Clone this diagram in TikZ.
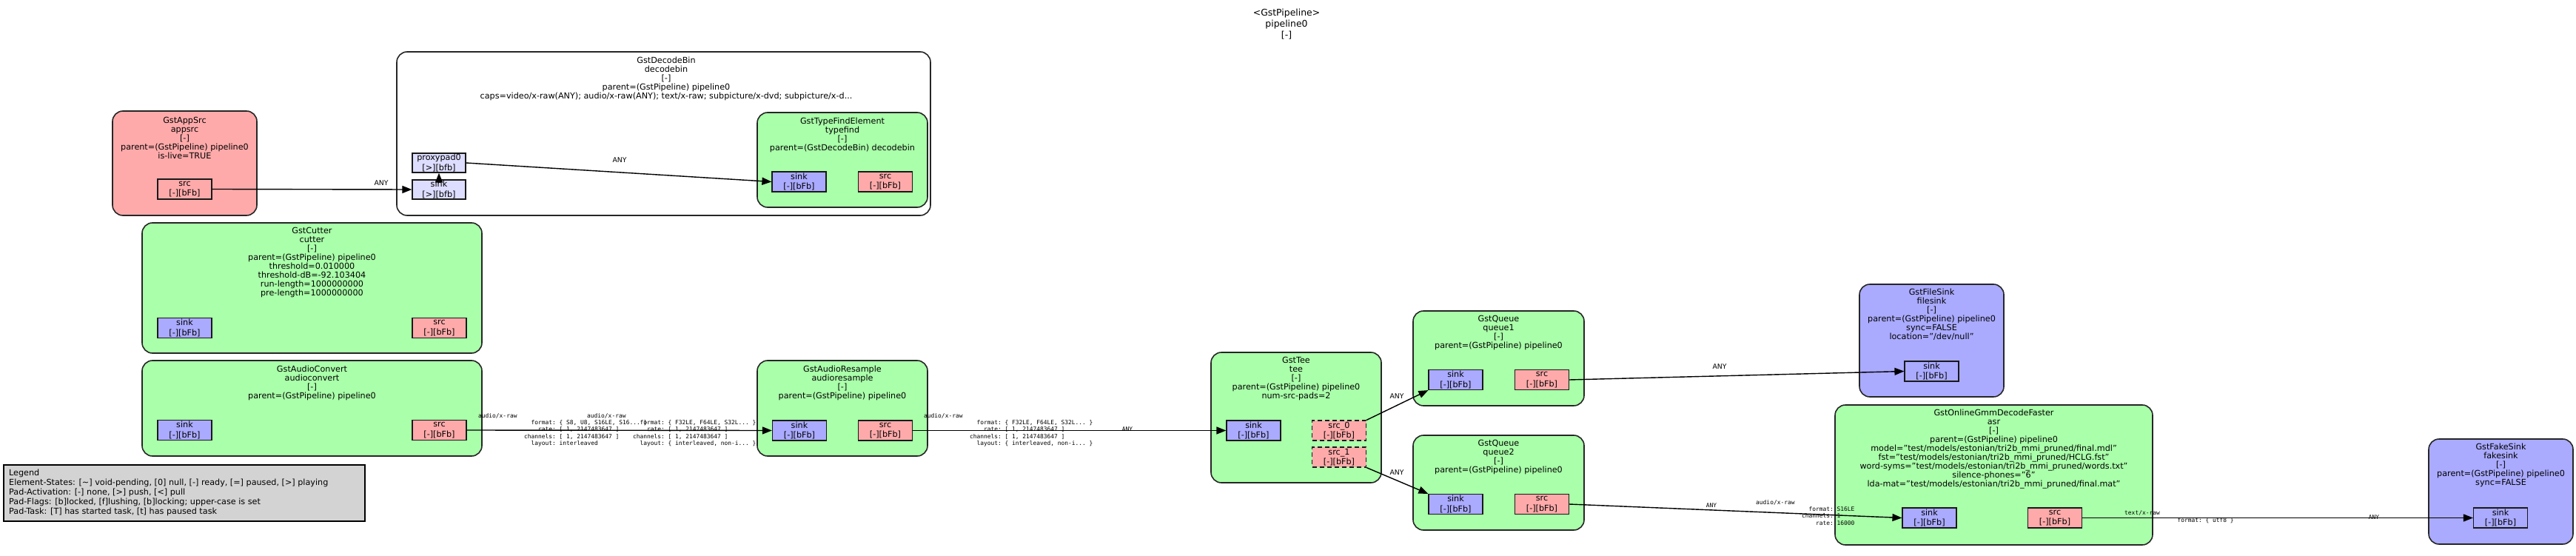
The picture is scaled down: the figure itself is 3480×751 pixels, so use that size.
\documentclass[tikz,border=0pt]{standalone}
\usepackage{fontspec}
\setmainfont{DejaVu Sans}
\setmonofont{DejaVu Sans Mono}
\usetikzlibrary{arrows.meta}
\definecolor{elemgreen}{HTML}{AAFFAA}
\definecolor{srcred}{HTML}{FFAAAA}
\definecolor{sinkblue}{HTML}{AAAAFF}
\definecolor{ghostblue}{HTML}{DDDDFF}
\definecolor{legendgray}{HTML}{D3D3D3}
\newcommand\elfont{\fontsize{11.2pt}{12pt}\selectfont}
\newcommand\padfont{\fontsize{11.2pt}{13.3pt}\selectfont}
\newcommand\capsfont{\ttfamily\fontsize{7.9pt}{9.3pt}\selectfont}
\newcommand\anyfont{\fontsize{9.3pt}{11pt}\selectfont}
\newcommand\ttlfont{\fontsize{12.4pt}{15pt}\selectfont}
\newcommand\legfont{\fontsize{11.2pt}{13.1pt}\selectfont}
\newcommand\padn[1]{\hspace*{\dimexpr #1\fontcharwd\font`0\relax}}
\begin{document}
\begin{tikzpicture}[x=1pt,y=-1pt,
  elbox/.style={draw=black!85, line width=1.6pt, rounded corners=14pt, inner sep=0pt},
  padbox/.style={draw=black!90, line width=1.2pt, minimum width=73pt, minimum height=27pt, inner sep=0pt, align=center, font=\padfont},
  srcpad/.style={padbox, fill=srcred},
  sinkpad/.style={padbox, fill=sinkblue},
  ghostpad/.style={padbox, fill=ghostblue, minimum width=72pt, minimum height=26pt},
  reqpad/.style={srcpad, dash pattern=on 6pt off 4pt},
  eltext/.style={anchor=north, align=center, inner sep=0pt, font=\elfont},
  capslabel/.style={anchor=north west, align=left, inner sep=0pt, font=\capsfont},
  anylabel/.style={inner sep=0pt, font=\anyfont},
  anymono/.style={inner sep=0pt, font=\capsfont},
  conn/.style={line width=1.4pt, -{Triangle[length=13pt,width=10pt]}}
]
\useasboundingbox (0,0) rectangle (3480,751);

% title
\node[anchor=north, align=center, inner sep=0pt, font=\ttlfont] (title) at (1738,11.5) {<GstPipeline>\\pipeline0\\{}[-]};

% elements
\node[elbox, fill=white, minimum width=721pt, minimum height=221pt] (decodebin) at (896.5,180.5) {};
\node[elbox, fill=elemgreen, minimum width=230pt, minimum height=128pt] (typefind) at (1138,216) {};
\node[elbox, fill=srcred, minimum width=195pt, minimum height=141pt] (appsrc) at (249.5,220.5) {};
\node[elbox, fill=elemgreen, minimum width=459pt, minimum height=176pt] (cutter) at (421.5,389) {};
\node[elbox, fill=elemgreen, minimum width=459pt, minimum height=129pt] (aconv) at (421.5,551.5) {};
\node[elbox, fill=elemgreen, minimum width=230pt, minimum height=129pt] (ares) at (1138,551.5) {};
\node[elbox, fill=elemgreen, minimum width=230pt, minimum height=176pt] (tee) at (1751,564) {};
\node[elbox, fill=elemgreen, minimum width=231pt, minimum height=128pt] (queue1) at (2024.5,484) {};
\node[elbox, fill=elemgreen, minimum width=231pt, minimum height=128pt] (queue2) at (2024.5,652) {};
\node[elbox, fill=sinkblue, minimum width=195pt, minimum height=152pt] (filesink) at (2609.5,460) {};
\node[elbox, fill=elemgreen, minimum width=429pt, minimum height=189pt] (asr) at (2693.5,641.5) {};
\node[elbox, fill=sinkblue, minimum width=195pt, minimum height=142pt] (fakesink) at (3378.5,664) {};

% element texts
\node[eltext] (decodebinL) at (900,76.5) {GstDecodeBin\\decodebin\\{}[-]\\parent=(GstPipeline) pipeline0\\caps=video/x-raw(ANY); audio/x-raw(ANY); text/x-raw; subpicture/x-dvd; subpicture/x-d...};
\node[eltext] (typefindL) at (1138,158.5) {GstTypeFindElement\\typefind\\{}[-]\\parent=(GstDecodeBin) decodebin};
\node[eltext] (appsrcL) at (249.5,157.5) {GstAppSrc\\appsrc\\{}[-]\\parent=(GstPipeline) pipeline0\\is-live=TRUE};
\node[eltext] (cutterL) at (421.5,306.5) {GstCutter\\cutter\\{}[-]\\parent=(GstPipeline) pipeline0\\threshold=0.010000\\threshold-dB=-92.103404\\run-length=1000000000\\pre-length=1000000000};
\node[eltext] (aconvL) at (421.5,493.5) {GstAudioConvert\\audioconvert\\{}[-]\\parent=(GstPipeline) pipeline0};
\node[eltext] (aresL) at (1138,493.5) {GstAudioResample\\audioresample\\{}[-]\\parent=(GstPipeline) pipeline0};
\node[eltext] (teeL) at (1751,481.5) {GstTee\\tee\\{}[-]\\parent=(GstPipeline) pipeline0\\num-src-pads=2};
\node[eltext] (queue1L) at (2024.5,425.5) {GstQueue\\queue1\\{}[-]\\parent=(GstPipeline) pipeline0};
\node[eltext] (queue2L) at (2024.5,593.5) {GstQueue\\queue2\\{}[-]\\parent=(GstPipeline) pipeline0};
\node[eltext] (filesinkL) at (2609.5,389.5) {GstFileSink\\filesink\\{}[-]\\parent=(GstPipeline) pipeline0\\sync=FALSE\\location="/dev/null"};
\node[eltext] (asrL) at (2693.5,552.5) {GstOnlineGmmDecodeFaster\\asr\\{}[-]\\parent=(GstPipeline) pipeline0\\model="test/models/estonian/tri2b\_mmi\_pruned/final.mdl"\\fst="test/models/estonian/tri2b\_mmi\_pruned/HCLG.fst"\\word-syms="test/models/estonian/tri2b\_mmi\_pruned/words.txt"\\silence-phones="6"\\lda-mat="test/models/estonian/tri2b\_mmi\_pruned/final.mat"};
\node[eltext] (fakesinkL) at (3378.5,598.5) {GstFakeSink\\fakesink\\{}[-]\\parent=(GstPipeline) pipeline0\\sync=FALSE};

% pads
\node[srcpad] (appsrcsrc) at (249.5,255.5) {src\\{}[-][bFb]};
\node[ghostpad] (decsink) at (593,256) {sink\\{}[>][bfb]};
\node[ghostpad] (proxy) at (593,220) {proxypad0\\{}[>][bfb]};
\node[sinkpad] (tfsink) at (1079.5,245.5) {sink\\{}[-][bFb]};
\node[srcpad] (tfsrc) at (1196,245.5) {src\\{}[-][bFb]};
\node[sinkpad] (cutsink) at (249.5,443) {sink\\{}[-][bFb]};
\node[srcpad] (cutsrc) at (593.5,443) {src\\{}[-][bFb]};
\node[sinkpad] (acsink) at (249.5,581) {sink\\{}[-][bFb]};
\node[srcpad] (acsrc) at (593.5,581) {src\\{}[-][bFb]};
\node[sinkpad] (arsink) at (1080,581.5) {sink\\{}[-][bFb]};
\node[srcpad] (arsrc) at (1196,581.5) {src\\{}[-][bFb]};
\node[sinkpad] (teesink) at (1693.5,581.5) {sink\\{}[-][bFb]};
\node[reqpad] (teesrc0) at (1809,581.5) {src\_0\\{}[-][bFb]};
\node[reqpad] (teesrc1) at (1809,617.5) {src\_1\\{}[-][bFb]};
\node[sinkpad] (q1sink) at (1966.5,513) {sink\\{}[-][bFb]};
\node[srcpad] (q1src) at (2083,513) {src\\{}[-][bFb]};
\node[sinkpad] (q2sink) at (1966.5,681) {sink\\{}[-][bFb]};
\node[srcpad] (q2src) at (2083,681) {src\\{}[-][bFb]};
\node[sinkpad] (fssink) at (2609.5,501.5) {sink\\{}[-][bFb]};
\node[sinkpad] (asrsink) at (2606.5,699.5) {sink\\{}[-][bFb]};
\node[srcpad] (asrsrc) at (2776,699.5) {src\\{}[-][bFb]};
\node[sinkpad] (fksink) at (3378,699.5) {sink\\{}[-][bFb]};

% connectors
\draw[conn] (appsrcsrc.east) -- (decsink.west);
\draw[conn] ([yshift=-4pt]decsink.north) -- (proxy.south);
\draw[conn] (proxy.east) -- (tfsink.west);
\draw[conn] (acsrc.east) -- (arsink.west);
\draw[conn] (arsrc.east) -- (teesink.west);
\draw[conn] (teesrc0.north east) -- (q1sink.south west);
\draw[conn] (teesrc1.south east) -- (q2sink.north west);
\draw[conn] (q1src.east) -- (fssink.west);
\draw[conn] (q2src.east) -- (asrsink.west);
\draw[conn] (asrsrc.east) -- (fksink.west);

% connector labels
\node[anylabel] (l1) at (515,247) {ANY};
\node[anylabel] (l2) at (837,216) {ANY};
\node[anylabel] (l3) at (1887,535) {ANY};
\node[anylabel] (l4) at (1887,638) {ANY};
\node[anylabel] (l5) at (2323,495) {ANY};
\node[anymono] (m1) at (1523,580) {ANY};
\node[anymono] (m2) at (2312,683) {ANY};
\node[anymono] (m3) at (3207,699) {ANY};

\node[capslabel] (capsA) at (646,558) {audio/x-raw\\\padn{15}format: \{ S8, U8, S16LE, S16... \}\\\padn{17}rate: [ 1, 2147483647 ]\\\padn{13}channels: [ 1, 2147483647 ]\\\padn{15}layout: interleaved};
\node[capslabel] (capsB) at (793,558) {audio/x-raw\\\padn{15}format: \{ F32LE, F64LE, S32L... \}\\\padn{17}rate: [ 1, 2147483647 ]\\\padn{13}channels: [ 1, 2147483647 ]\\\padn{15}layout: \{ interleaved, non-i... \}};
\node[capslabel] (capsC) at (1248,558) {audio/x-raw\\\padn{15}format: \{ F32LE, F64LE, S32L... \}\\\padn{17}rate: [ 1, 2147483647 ]\\\padn{13}channels: [ 1, 2147483647 ]\\\padn{15}layout: \{ interleaved, non-i... \}};
\node[capslabel] (capsD) at (2372,675) {audio/x-raw\\\padn{15}format: S16LE\\\padn{13}channels: 1\\\padn{17}rate: 16000};
\node[capslabel] (capsE) at (2870,690) {text/x-raw\\\padn{15}format: \{ utf8 \}};

% legend
\node[draw=black, line width=1.3pt, fill=legendgray, minimum width=488pt, minimum height=76pt, inner sep=0pt] (legend) at (249,666) {};
\node[anchor=north west, align=left, inner sep=0pt, font=\legfont] (legendL) at (12,633.5) {Legend\\Element-States: [\textasciitilde] void-pending, [0] null, [-] ready, [=] paused, [>] playing\\Pad-Activation: [-] none, [>] push, [<] pull\\Pad-Flags: [b]locked, [f]lushing, [b]locking; upper-case is set\\Pad-Task: [T] has started task, [t] has paused task};
\end{tikzpicture}
\end{document}
